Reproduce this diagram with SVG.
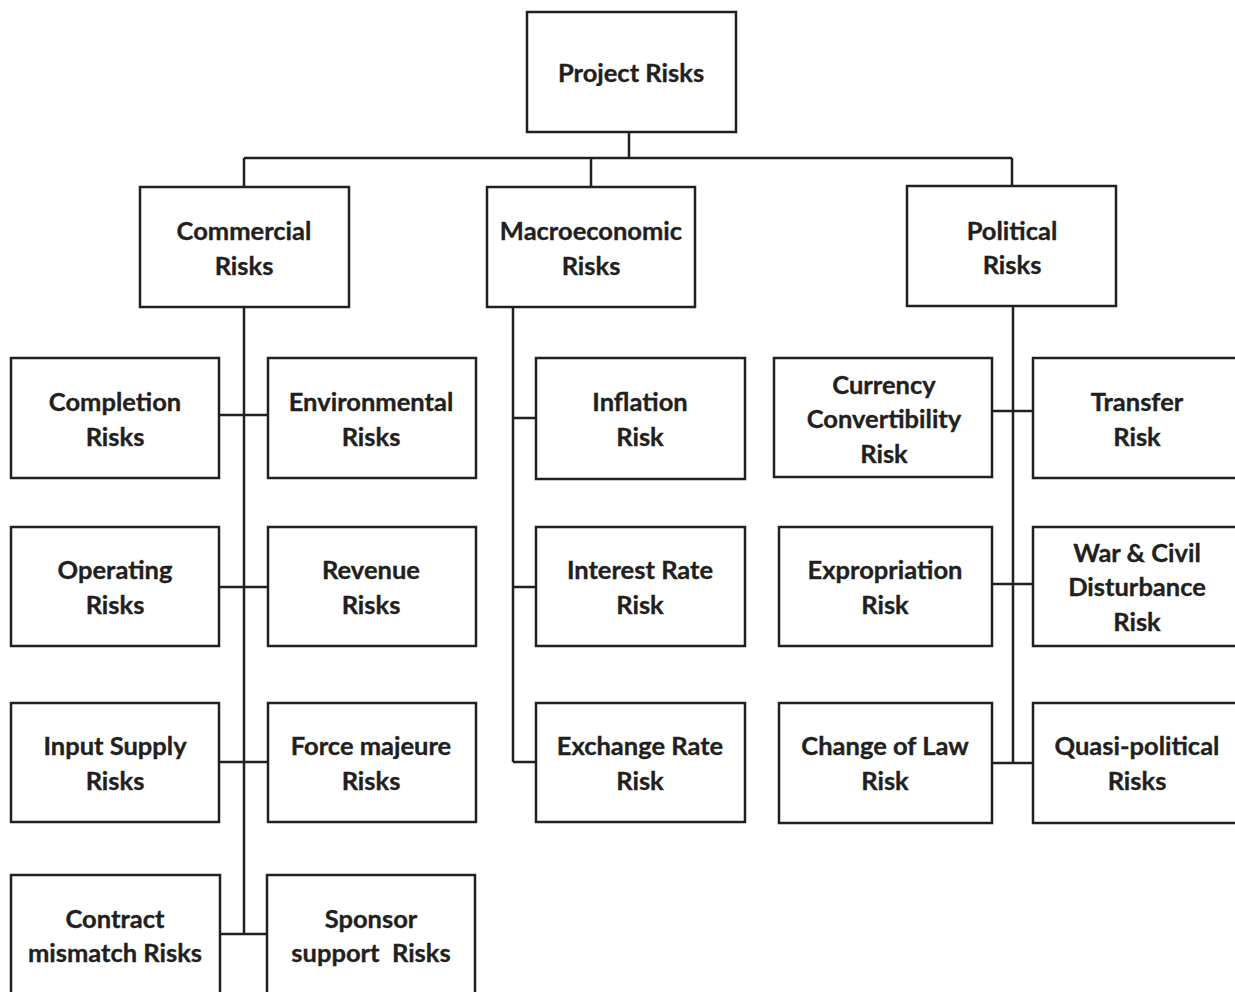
<svg xmlns="http://www.w3.org/2000/svg" width="1235" height="992" viewBox="0 0 1235 992">
  <style>
    .box { fill: #ffffff; stroke: #231f20; stroke-width: 2.5; }
    .lbl { font-family: "Lato", "Liberation Sans", sans-serif; font-weight: bold; font-size: 25.5px; fill: #231f20; stroke: #231f20; stroke-width: 0.35; text-anchor: middle; }
    #connectors path { fill: none; stroke: #231f20; stroke-width: 2.5; }
  </style>
  <rect width="1235" height="992" fill="#ffffff"/>

  <g id="connectors">
    <!-- root to tier-one bar -->
    <path d="M629 132 V158 M244 158 H1012 M244 158 V187 M591 158 V187 M1012 158 V186"/>
    <!-- commercial spine -->
    <path d="M244 307 V934 M219 415 H268 M219 587 H268 M219 762 H268 M220 934 H267"/>
    <!-- macroeconomic spine -->
    <path d="M513 307 V762 M513 418 H536 M513 587 H536 M513 762 H536"/>
    <!-- political spine -->
    <path d="M1013 306 V763 M992 411 H1033 M992 584 H1033 M992 763 H1033"/>
  </g>

  <g id="project-risks">
    <rect class="box" x="527" y="12" width="209" height="120"/>
    <text class="lbl" x="631" y="82">Project Risks</text>
  </g>

  <g id="commercial-risks">
    <rect class="box" x="140" y="187" width="209" height="120"/>
    <text class="lbl" x="244" y="240">Commercial</text>
    <text class="lbl" x="244" y="275">Risks</text>
  </g>
  <g id="macroeconomic-risks">
    <rect class="box" x="487" y="187" width="208" height="120"/>
    <text class="lbl" x="591" y="240">Macroeconomic</text>
    <text class="lbl" x="591" y="275">Risks</text>
  </g>
  <g id="political-risks">
    <rect class="box" x="907" y="186" width="209" height="120"/>
    <text class="lbl" x="1012" y="240">Political</text>
    <text class="lbl" x="1012" y="274">Risks</text>
  </g>

  <!-- commercial children -->
  <g id="completion-risks">
    <rect class="box" x="11" y="358" width="208" height="120"/>
    <text class="lbl" x="115" y="411">Completion</text>
    <text class="lbl" x="115" y="446">Risks</text>
  </g>
  <g id="environmental-risks">
    <rect class="box" x="268" y="358" width="208" height="120"/>
    <text class="lbl" x="371" y="411">Environmental</text>
    <text class="lbl" x="371" y="446">Risks</text>
  </g>
  <g id="operating-risks">
    <rect class="box" x="11" y="527" width="208" height="119"/>
    <text class="lbl" x="115" y="579">Operating</text>
    <text class="lbl" x="115" y="614">Risks</text>
  </g>
  <g id="revenue-risks">
    <rect class="box" x="268" y="527" width="208" height="119"/>
    <text class="lbl" x="371" y="579">Revenue</text>
    <text class="lbl" x="371" y="614">Risks</text>
  </g>
  <g id="input-supply-risks">
    <rect class="box" x="11" y="703" width="208" height="119"/>
    <text class="lbl" x="115" y="755">Input Supply</text>
    <text class="lbl" x="115" y="790">Risks</text>
  </g>
  <g id="force-majeure-risks">
    <rect class="box" x="268" y="703" width="208" height="119"/>
    <text class="lbl" x="371" y="755">Force majeure</text>
    <text class="lbl" x="371" y="790">Risks</text>
  </g>
  <g id="contract-mismatch-risks">
    <rect class="box" x="11" y="875" width="209" height="130"/>
    <text class="lbl" x="115" y="928">Contract</text>
    <text class="lbl" x="115" y="962">mismatch Risks</text>
  </g>
  <g id="sponsor-support-risks">
    <rect class="box" x="267" y="875" width="208" height="130"/>
    <text class="lbl" x="371" y="928">Sponsor</text>
    <text class="lbl" x="371" y="962" xml:space="preserve">support  Risks</text>
  </g>

  <!-- macroeconomic children -->
  <g id="inflation-risk">
    <rect class="box" x="536" y="358" width="209" height="121"/>
    <text class="lbl" x="640" y="411">Inflation</text>
    <text class="lbl" x="640" y="446">Risk</text>
  </g>
  <g id="interest-rate-risk">
    <rect class="box" x="536" y="527" width="209" height="119"/>
    <text class="lbl" x="640" y="579">Interest Rate</text>
    <text class="lbl" x="640" y="614">Risk</text>
  </g>
  <g id="exchange-rate-risk">
    <rect class="box" x="536" y="703" width="209" height="119"/>
    <text class="lbl" x="640" y="755">Exchange Rate</text>
    <text class="lbl" x="640" y="790">Risk</text>
  </g>

  <!-- political children -->
  <g id="currency-convertibility-risk">
    <rect class="box" x="774" y="358" width="218" height="119"/>
    <text class="lbl" x="884" y="394">Currency</text>
    <text class="lbl" x="884" y="428">Convertibility</text>
    <text class="lbl" x="884" y="463">Risk</text>
  </g>
  <g id="transfer-risk">
    <rect class="box" x="1033" y="358" width="210" height="120"/>
    <text class="lbl" x="1137" y="411">Transfer</text>
    <text class="lbl" x="1137" y="446">Risk</text>
  </g>
  <g id="expropriation-risk">
    <rect class="box" x="779" y="527" width="213" height="119"/>
    <text class="lbl" x="885" y="579">Expropriation</text>
    <text class="lbl" x="885" y="614">Risk</text>
  </g>
  <g id="war-civil-disturbance-risk">
    <rect class="box" x="1033" y="527" width="210" height="119"/>
    <text class="lbl" x="1137" y="562">War &amp; Civil</text>
    <text class="lbl" x="1137" y="596">Disturbance</text>
    <text class="lbl" x="1137" y="631">Risk</text>
  </g>
  <g id="change-of-law-risk">
    <rect class="box" x="779" y="703" width="213" height="120"/>
    <text class="lbl" x="885" y="755">Change of Law</text>
    <text class="lbl" x="885" y="790">Risk</text>
  </g>
  <g id="quasi-political-risks">
    <rect class="box" x="1033" y="703" width="210" height="120"/>
    <text class="lbl" x="1137" y="755">Quasi-political</text>
    <text class="lbl" x="1137" y="790">Risks</text>
  </g>
</svg>
